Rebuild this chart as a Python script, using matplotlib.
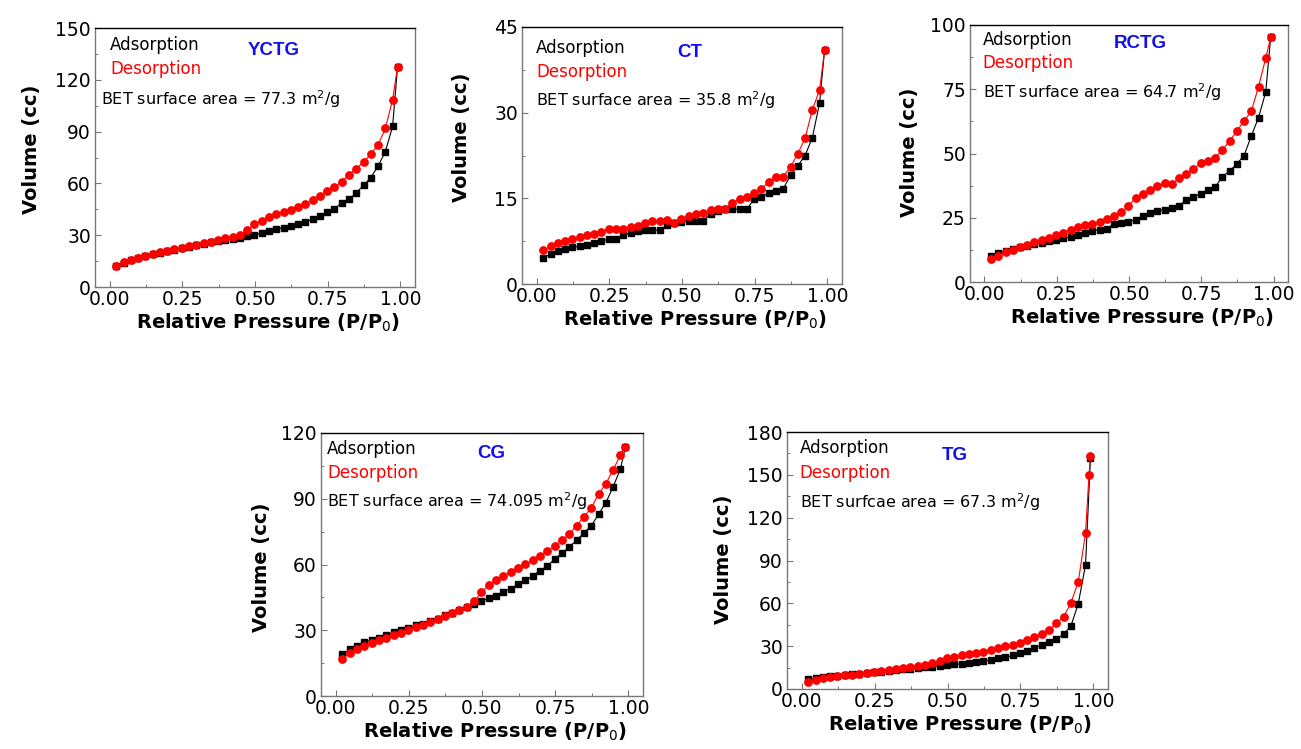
import matplotlib
matplotlib.use("Agg")
import matplotlib.pyplot as plt
from matplotlib.ticker import MultipleLocator

plt.rcParams['font.family'] = ['DejaVu Sans']
plt.rcParams['mathtext.fontset'] = 'dejavusans'

# ---------------- data ----------------
pressure = [0.023, 0.048, 0.073, 0.098, 0.123, 0.148, 0.173, 0.198, 0.223, 0.248,
            0.273, 0.298, 0.323, 0.348, 0.373, 0.398, 0.423, 0.448, 0.473, 0.498,
            0.523, 0.548, 0.573, 0.598, 0.623, 0.648, 0.673, 0.698, 0.723, 0.748,
            0.773, 0.798, 0.823, 0.848, 0.873, 0.898, 0.923, 0.948, 0.973, 0.990]

yctg_ads = [12.0, 14.0, 15.6, 16.7, 17.7, 18.9, 19.8, 20.8, 21.7, 22.4,
            23.3, 24.1, 25.1, 26.0, 26.9, 27.4, 27.9, 28.4, 29.6, 30.2,
            31.1, 32.7, 33.5, 34.4, 35.2, 36.6, 37.7, 39.3, 41.2, 43.2,
            45.1, 48.8, 50.8, 54.5, 58.9, 63.4, 70.0, 78.4, 93.0, 127.6]
yctg_des = [12.3, 14.2, 15.8, 16.9, 17.9, 19.1, 20.0, 21.0, 21.9, 22.6,
            23.5, 24.3, 25.3, 26.3, 27.2, 28.2, 29.0, 30.4, 32.9, 36.2,
            38.5, 40.5, 42.2, 43.2, 44.7, 46.3, 48.1, 50.4, 52.9, 55.6,
            58.0, 60.9, 65.0, 68.5, 72.2, 77.0, 82.3, 91.8, 108.4, 127.6]

ct_ads = [4.6, 5.2, 5.7, 6.1, 6.4, 6.6, 6.9, 7.2, 7.6, 7.8,
          7.9, 8.5, 9.0, 9.3, 9.4, 9.4, 9.4, 10.3, 10.7, 10.9,
          11.0, 11.0, 11.0, 12.3, 12.8, 13.1, 13.1, 13.1, 13.1, 14.9,
          15.3, 15.9, 16.3, 16.7, 19.0, 20.7, 22.5, 25.6, 31.7, 40.9]
ct_des = [5.9, 6.6, 7.1, 7.6, 7.9, 8.2, 8.5, 8.8, 9.1, 9.6,
          9.7, 9.7, 9.9, 10.2, 10.7, 11.0, 11.1, 11.2, 10.7, 11.4,
          11.9, 12.2, 12.5, 12.9, 13.1, 13.2, 14.2, 14.9, 15.3, 15.9,
          16.7, 17.9, 18.8, 18.8, 20.5, 22.8, 25.5, 30.5, 34.0, 40.9]

rctg_ads = [10.0, 11.4, 12.2, 12.9, 13.5, 14.0, 14.7, 15.3, 16.0, 16.5,
            17.0, 17.5, 18.4, 19.2, 20.0, 20.3, 20.8, 22.6, 23.1, 23.5,
            24.2, 25.7, 27.0, 27.7, 28.1, 28.7, 29.6, 31.9, 33.1, 34.3,
            35.7, 37.0, 40.9, 43.2, 46.0, 49.2, 56.8, 64.0, 73.9, 95.2]
rctg_des = [8.8, 10.3, 11.6, 12.6, 13.6, 14.5, 15.6, 16.4, 17.3, 18.2,
            19.2, 20.4, 21.4, 22.1, 22.5, 23.5, 24.7, 25.7, 27.1, 29.7,
            32.6, 34.3, 35.7, 37.4, 38.4, 38.3, 40.3, 42.2, 44.0, 46.2,
            47.1, 48.4, 51.4, 54.9, 58.7, 62.7, 66.4, 76.0, 87.1, 95.2]

cg_ads = [19.0, 21.4, 23.0, 24.5, 25.6, 26.5, 28.0, 29.0, 30.1, 31.2,
          32.2, 33.0, 34.1, 35.1, 37.1, 38.0, 39.1, 40.6, 42.1, 43.2,
          44.7, 45.8, 47.5, 49.0, 50.9, 52.8, 54.8, 57.2, 59.2, 62.5,
          65.1, 68.0, 71.0, 74.5, 77.6, 82.9, 88.2, 95.4, 103.7, 113.6]
cg_des = [16.9, 19.5, 21.3, 22.8, 24.2, 25.4, 26.5, 28.0, 28.9, 30.1,
          31.5, 32.5, 33.6, 35.0, 36.3, 37.9, 39.1, 40.8, 43.2, 47.3,
          50.6, 52.9, 54.8, 56.6, 58.4, 60.1, 61.9, 63.9, 66.2, 68.4,
          71.0, 73.9, 77.7, 81.7, 85.8, 92.0, 96.9, 103.1, 110.1, 113.6]

tg_ads = [7.0, 7.5, 8.2, 8.8, 9.3, 9.8, 10.2, 10.7, 11.2, 11.6,
          12.1, 12.6, 13.2, 13.7, 14.2, 14.7, 15.1, 15.6, 16.1, 16.5,
          17.2, 17.7, 18.2, 18.6, 19.3, 20.5, 21.4, 22.1, 23.5, 24.9,
          26.5, 28.6, 31.0, 33.0, 35.0, 38.4, 44.2, 59.6, 86.9, 162.1]
tg_des_pressure = pressure[:-1] + [0.985, 0.990]
tg_des = [4.9, 6.3, 7.5, 8.4, 9.1, 9.5, 10.0, 10.7, 11.4, 12.1,
          12.8, 13.5, 14.2, 14.9, 15.6, 16.3, 17.0, 17.9, 19.6, 21.4,
          22.6, 23.8, 24.7, 25.4, 26.1, 27.5, 28.9, 30.0, 30.7, 32.4,
          34.2, 36.6, 38.7, 41.2, 45.9, 50.5, 60.5, 74.8, 109.2, 150.2, 163.0]

sample_names = ["YCTG", "CT", "RCTG", "CG", "TG"]
bet_labels = ["BET surface area = 77.3 m$^2$/g",
              "BET surface area = 35.8 m$^2$/g",
              "BET surface area = 64.7 m$^2$/g",
              "BET surface area = 74.095 m$^2$/g",
              "BET surfcae area = 67.3 m$^2$/g"]
y_max = [150, 45, 100, 120, 180]
y_step = [30, 15, 25, 30, 30]
x_ticks = [0.00, 0.25, 0.50, 0.75, 1.00]
x_tick_labels = ["0.00", "0.25", "0.50", "0.75", "1.00"]

ads_x = [pressure, pressure, pressure, pressure, pressure]
ads_y = [yctg_ads, ct_ads, rctg_ads, cg_ads, tg_ads]
des_x = [pressure, pressure, pressure, pressure, tg_des_pressure]
des_y = [yctg_des, ct_des, rctg_des, cg_des, tg_des]

# ---------------- layout ----------------
W, H = 1301, 749
fig = plt.figure(figsize=(W / 100, H / 100), dpi=100)

# axes boxes in pixels: left, top, right, bottom
boxes = [(95, 28, 415, 287), (522, 27, 842, 284), (970, 25, 1288, 282),
         (321, 433, 643, 696), (787, 432, 1108, 689)]
# text positions (axes fractions)
ads_pos = [(0.047, 0.934), (0.044, 0.917), (0.040, 0.942), (0.019, 0.941), (0.040, 0.936)]
des_pos = [(0.047, 0.842), (0.044, 0.826), (0.040, 0.851), (0.019, 0.849), (0.040, 0.839)]
bet_pos = [(0.019, 0.726), (0.044, 0.716), (0.040, 0.737), (0.019, 0.741), (0.040, 0.728)]
name_pos = [(0.56, 0.915), (0.525, 0.899), (0.535, 0.929), (0.53, 0.922), (0.522, 0.91)]
ylab_pos = [(-0.17, 0.53), (-0.16, 0.57), (-0.16, 0.506), (-0.155, 0.49), (-0.167, 0.506)]

spine_gray = '#777777'

for k in range(5):
    l, t, r, b = boxes[k]
    ax = fig.add_axes([l / W, (H - b) / H, (r - l) / W, (b - t) / H])

    ax.plot(ads_x[k], ads_y[k], color='black', lw=0.8, marker='s', ms=4.6,
            mfc='black', mec='black', zorder=3)
    ax.plot(des_x[k], des_y[k], color='red', lw=0.8, marker='o', ms=5.3,
            mfc='red', mec='red', zorder=4)

    ax.set_xlim(-0.05, 1.05)
    ax.set_ylim(0, y_max[k])
    ax.set_xticks(x_ticks)
    ax.set_xticklabels(x_tick_labels)
    ax.yaxis.set_major_locator(MultipleLocator(y_step[k]))
    ax.yaxis.set_minor_locator(MultipleLocator(y_step[k] / 2))
    ax.xaxis.set_minor_locator(MultipleLocator(0.125))
    ax.tick_params(which='major', direction='in', length=4, width=0.8,
                   color=spine_gray, labelsize=13.5, pad=2)
    ax.tick_params(which='minor', direction='in', length=2.5, width=0.7,
                   color=spine_gray)
    ax.tick_params(axis='y', which='major', pad=3)
    for side in ['left', 'bottom', 'right']:
        ax.spines[side].set_color(spine_gray)
        ax.spines[side].set_linewidth(1.0)
    ax.spines['top'].set_color('black')
    ax.spines['top'].set_linewidth(1.0)

    ax.set_xlabel("Relative Pressure (P/P$_0$)", fontsize=14, fontweight='bold')
    ax.xaxis.set_label_coords(0.54, -0.095)
    ax.set_ylabel("Volume (cc)", fontsize=14, fontweight='bold')
    ax.yaxis.set_label_coords(*ylab_pos[k])

    ax.text(*ads_pos[k], "Adsorption", transform=ax.transAxes, color='black',
            fontsize=12, ha='left', va='center')
    ax.text(*des_pos[k], "Desorption", transform=ax.transAxes, color='red',
            fontsize=12, ha='left', va='center')
    ax.text(*bet_pos[k], bet_labels[k], transform=ax.transAxes, color='black',
            fontsize=11.5, ha='left', va='center')
    ax.text(*name_pos[k], sample_names[k], transform=ax.transAxes, color='#1010ee',
            fontsize=13.5, fontweight='bold', family='Liberation Sans',
            ha='center', va='center')

fig.savefig("out.png", dpi=100)
